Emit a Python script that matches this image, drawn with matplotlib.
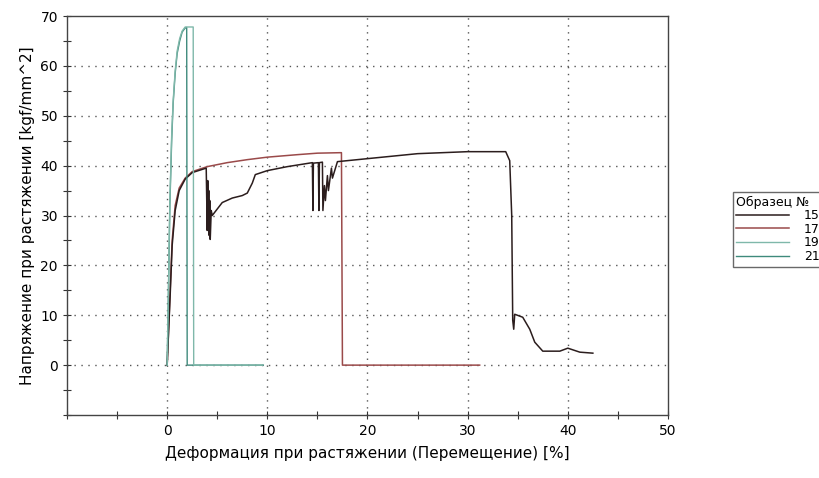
import matplotlib
matplotlib.use("Agg")
import matplotlib.pyplot as plt
from matplotlib.ticker import FixedLocator

# Data -------------------------------------------------------------------------

# Образец 15 (dark curve, dips at ~4 % and ~15 %, breaks at ~34.5 %)
x15 = [0, 0.3, 0.5, 0.8, 1.2, 1.8, 2.5, 3.9, 4.0, 4.05, 4.1, 4.15, 4.2, 4.25, 4.3, 4.4, 4.5,
       5.5, 6.5, 7.5, 8.0, 8.5, 8.8, 10, 12, 14.5, 14.55, 14.6, 15.1, 15.15, 15.2, 15.5, 15.55,
       15.7, 15.8, 16.0, 16.1, 16.4, 16.5, 17.0, 20, 25, 30, 33.8, 34.2, 34.4, 34.5, 34.6,
       34.7, 35.5, 36.2, 36.7, 37.5, 39.2, 40.0, 41.2, 42.5]
y15 = [0, 14, 24, 31, 35, 37.3, 38.6, 39.5, 27, 37, 28, 35, 26, 33, 25.2, 31, 30,
       32.6, 33.5, 34, 34.5, 36.5, 38.2, 39, 39.8, 40.6, 31, 40.5, 40.6, 31, 40.6, 40.7, 31,
       36, 33, 38, 35, 39.5, 37.5, 40.8, 41.4, 42.4, 42.8, 42.8, 41, 30, 9, 7.2,
       10.2, 9.6, 7.2, 4.6, 2.8, 2.8, 3.4, 2.6, 2.4]

# Образец 17 (red curve, breaks at ~17.5 %)
x17 = [0, 0.3, 0.5, 0.8, 1.2, 1.8, 2.5, 4, 6, 8, 10, 13, 15, 17.4, 17.5, 31.2]
y17 = [0, 15, 25, 32, 35.5, 37.5, 38.8, 39.8, 40.6, 41.2, 41.7, 42.2, 42.5, 42.6, 0, 0]

# Образец 19 (teal, peak ~68, break at ~2.6 %)
x19 = [0, 0.15, 0.27, 0.45, 0.6, 0.8, 1.0, 1.25, 1.5, 1.8, 2.6, 2.65, 9.5]
y19 = [0, 18, 33, 46, 53, 59, 63, 65.5, 67, 67.8, 67.8, 0, 0]

# Образец 21 (teal, break at ~2.0 %)
x21 = [0, 0.15, 0.27, 0.45, 0.6, 0.8, 1.0, 1.25, 1.5, 1.8, 1.95, 2.0, 9.6]
y21 = [0, 17, 32, 45, 52.5, 58.5, 62.5, 65, 66.8, 67.6, 67.7, 0, 0]

samples = ["15", "17", "19", "21"]
colors = ["#2b1d1d", "#9a4a4a", "#7fb8aa", "#3f8a7c"]

x_major = [0, 10, 20, 30, 40, 50]
x_minor = [-10, -5, 5, 15, 25, 35, 45]
y_major = [0, 10, 20, 30, 40, 50, 60, 70]
y_minor = [-10, -5, 5, 15, 25, 35, 45, 55, 65]

# Plot --------------------------------------------------------------------------

fig = plt.figure(figsize=(8.19, 4.78), dpi=100)
ax = fig.add_axes([0.0818, 0.1318, 0.7338, 0.8347])

ax.plot(x17, y17, color=colors[1], lw=1.1, label=samples[1])
ax.plot(x15, y15, color=colors[0], lw=1.1, label=samples[0])
ax.plot(x21, y21, color=colors[3], lw=1.0, label=samples[3])
ax.plot(x19, y19, color=colors[2], lw=1.0, label=samples[2])

ax.set_xlim(-10, 50)
ax.set_ylim(-10, 70)
ax.xaxis.set_major_locator(FixedLocator(x_major))
ax.xaxis.set_minor_locator(FixedLocator(x_minor))
ax.yaxis.set_major_locator(FixedLocator(y_major))
ax.yaxis.set_minor_locator(FixedLocator(y_minor))
ax.tick_params(which="both", direction="inout", length=6, width=0.8, labelsize=10, color="#333333")

# dotted grid, only inside the frame
for gx in [0, 10, 20, 30, 40]:
    ax.axvline(gx, color="#555555", lw=1.0, ls=(0, (1, 4)), zorder=0)
for gy in [0, 10, 20, 30, 40, 50, 60]:
    ax.axhline(gy, color="#555555", lw=1.0, ls=(0, (1, 4)), zorder=0)

for s in ax.spines.values():
    s.set_color("#444444")
    s.set_linewidth(1.0)

ax.set_xlabel("Деформация при растяжении (Перемещение) [%]", fontsize=11, labelpad=6)
ax.set_ylabel("Напряжение при растяжении [kgf/mm^2]", fontsize=11, labelpad=4)

handles, labels = ax.get_legend_handles_labels()
order = [labels.index(s) for s in samples]
leg = fig.legend([handles[i] for i in order], [labels[i] for i in order],
                 title="Образец №", loc="upper left", bbox_to_anchor=(0.887, 0.612),
                 fontsize=9, title_fontsize=9, frameon=True, fancybox=False,
                 handlelength=4.2, handletextpad=1.2, labelspacing=0.05,
                 borderpad=0.3, alignment="left")
leg.get_frame().set_edgecolor("#444444")
leg.get_frame().set_linewidth(1.0)

fig.savefig("out.png", dpi=100)
